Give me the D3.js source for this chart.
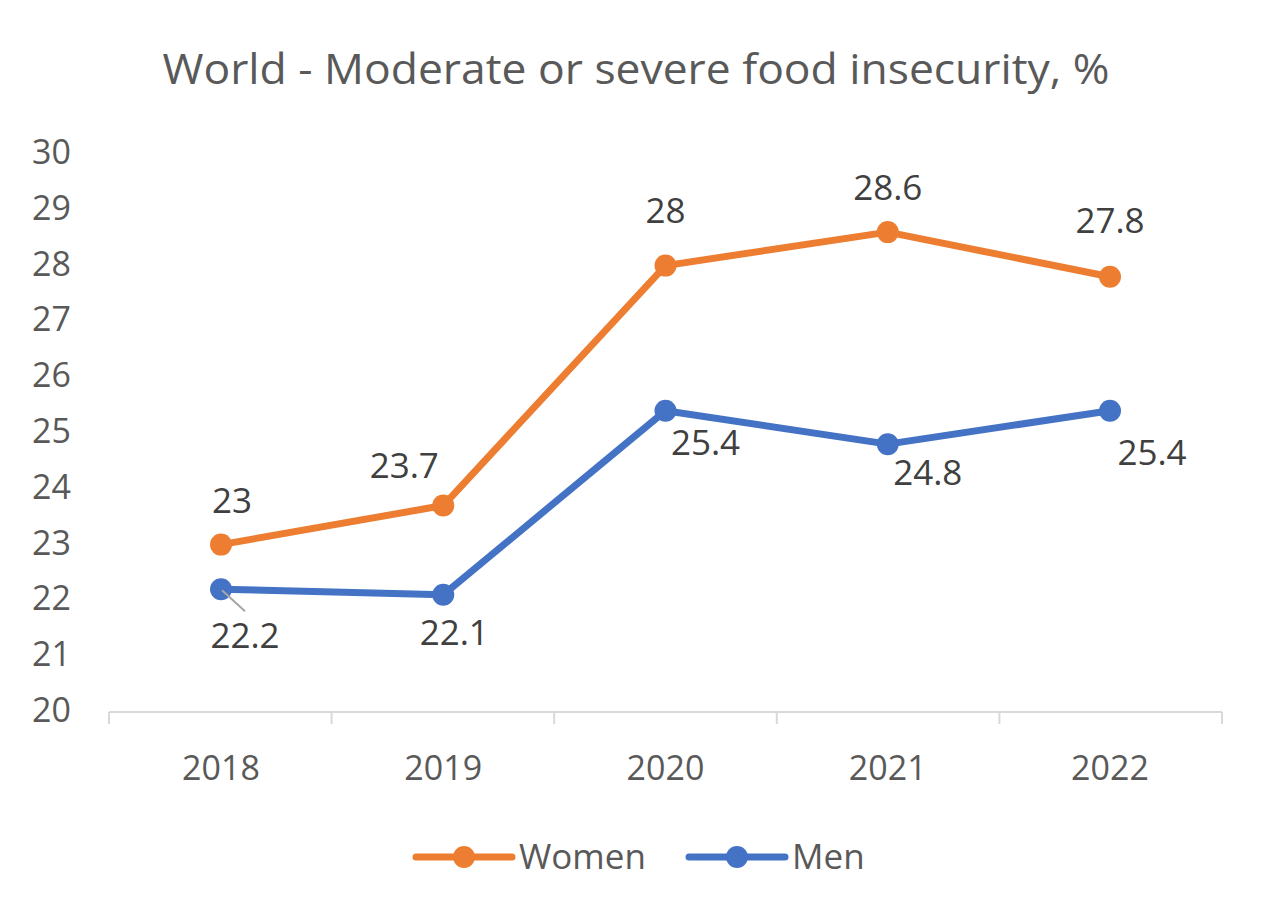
<!DOCTYPE html>
<html><head><meta charset="utf-8">
<script src="https://cdn.jsdelivr.net/npm/d3@7"></script>
<style>body{margin:0;background:#fff;} text{font-family:"Open Sans","Noto Sans",sans-serif;}</style>
</head><body>
<svg id="c" width="1272" height="924"></svg>
<script>
const title = "World - Moderate or severe food insecurity, %";
const years = ["2018","2019","2020","2021","2022"];
const women = [23, 23.7, 28, 28.6, 27.8];
const men = [22.2, 22.1, 25.4, 24.8, 25.4];
const yTicks = [20,21,22,23,24,25,26,27,28,29,30];
const seriesNames = ["Women","Men"];
const colors = ["#ED7D31","#4472C4"];
// label offsets (dx, dy) in pixels, styling only
const womenLabelOff = [[11,-44],[-39,-40],[0,-55],[0,-44],[0,-56]];
const menLabelOff = [[24,47],[11,38],[40,32],[40,29],[42,42]];

const svg = d3.select("#c");
const x = d3.scalePoint().domain(years).range([221,1110]);
const xBand = d3.scaleBand().domain(years).range([109,1222]);
const y = d3.scaleLinear().domain([20,30]).range([712,154]);

svg.append("text").attr("x",636).attr("y",84).attr("text-anchor","middle")
  .attr("font-size",42).attr("fill","#595959").attr("textLength",947).attr("lengthAdjust","spacingAndGlyphs").text(title);

// y labels
svg.append("g").selectAll("text").data(yTicks).join("text")
  .attr("x",71).attr("y",d=>y(d)-2).attr("dy","0.35em").attr("text-anchor","end")
  .attr("font-size",34).attr("fill","#595959").text(d=>d);

// x axis
const xa = svg.append("g").attr("transform","translate(0,712)")
  .call(d3.axisBottom(xBand).tickSize(0).tickFormat(""));
xa.select(".domain").remove();
xa.append("line").attr("x1",109).attr("x2",1222).attr("stroke","#D9D9D9").attr("stroke-width",2);
const bounds = years.map(d=>xBand(d)).concat([xBand(years[years.length-1])+xBand.bandwidth()]);
xa.selectAll(".tk").data(bounds).join("line").attr("class","tk")
  .attr("x1",d=>d).attr("x2",d=>d).attr("y1",0).attr("y2",12).attr("stroke","#D9D9D9").attr("stroke-width",2);
svg.append("g").selectAll("text").data(years).join("text")
  .attr("x",d=>x(d)).attr("y",780).attr("text-anchor","middle")
  .attr("font-size",34).attr("fill","#595959").text(d=>d);

const line = d3.line().x((d,i)=>x(years[i])).y(d=>y(d));
[women, men].forEach((vals,si)=>{
  svg.append("path").datum(vals).attr("d",line).attr("fill","none")
    .attr("stroke",colors[si]).attr("stroke-width",7).attr("stroke-linejoin","round").attr("stroke-linecap","round");
  svg.append("g").selectAll("circle").data(vals).join("circle")
    .attr("cx",(d,i)=>x(years[i])).attr("cy",d=>y(d)).attr("r",11).attr("fill",colors[si]);
});

// leader line for 22.2
svg.append("line").attr("x1",x(years[0])+1).attr("y1",y(men[0])+1)
  .attr("x2",x(years[0])+24).attr("y2",y(men[0])+22).attr("stroke","#A6A6A6").attr("stroke-width",2);

[[women,womenLabelOff],[men,menLabelOff]].forEach(([vals,off])=>{
  svg.append("g").selectAll("text").data(vals).join("text")
    .attr("x",(d,i)=>x(years[i])+off[i][0]).attr("y",(d,i)=>y(d)+off[i][1])
    .attr("dy","0.35em").attr("text-anchor","middle")
    .attr("font-size",35).attr("fill","#404040").text(d=>d);
});

// legend
const legX = [416, 689];
seriesNames.forEach((n,i)=>{
  const g = svg.append("g").attr("transform",`translate(${legX[i]},857)`);
  g.append("line").attr("x1",0).attr("x2",96).attr("stroke",colors[i]).attr("stroke-width",7).attr("stroke-linecap","round");
  g.append("circle").attr("cx",48).attr("r",11).attr("fill",colors[i]);
  g.append("text").attr("x",103).attr("dy","0.35em").attr("font-size",35).attr("fill","#595959").text(n);
});
</script>
</body></html>
